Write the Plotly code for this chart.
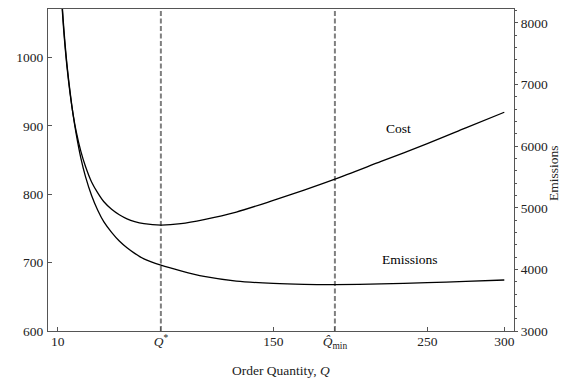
import plotly.graph_objects as go

# ---- data ----
order_qty = [12, 13, 14, 16, 18, 20, 22, 25, 28, 32, 36, 40, 45, 50, 55, 60, 66, 77,
             90, 105, 126, 150, 170, 190, 220, 250, 275, 300]
cost = [1106, 1069, 1037, 987, 948, 917, 892, 863, 841, 818, 802, 789, 778, 770,
        764, 760, 757, 755, 757, 763, 774, 791, 806, 822, 848, 874, 897, 920]
emissions = [8700, 8260, 7900, 7330, 6890, 6510, 6200, 5810, 5510, 5200, 4960, 4770,
             4600, 4460, 4350, 4260, 4170, 4068, 3975, 3885, 3810, 3772, 3757, 3753,
             3765, 3785, 3806, 3828]
q_star = 77
q_min = 190
x_tickvals = [10, q_star, 150, q_min, 250, 300]
x_ticktext = ["10", "<i>Q</i><sup>*</sup>", "150", "<i>Q̂</i><sub>min</sub>", "250", "300"]
cost_ticks = [600, 700, 800, 900, 1000]
emis_ticks = [3000, 4000, 5000, 6000, 7000, 8000]

FONT = "Liberation Serif"
FS = 13.5
AX = "#555555"

fig = go.Figure()
fig.add_trace(go.Scatter(x=order_qty, y=cost, mode="lines",
                         line=dict(color="black", width=1.3, shape="spline", smoothing=0.8),
                         showlegend=False, yaxis="y", hoverinfo="skip"))
fig.add_trace(go.Scatter(x=order_qty, y=emissions, mode="lines",
                         line=dict(color="black", width=1.3, shape="spline", smoothing=0.8),
                         showlegend=False, yaxis="y2", hoverinfo="skip"))

for q in (q_star, q_min):
    fig.add_shape(type="line", xref="x", yref="paper", x0=q, x1=q, y0=0, y1=1,
                  line=dict(color="#7f7f7f", width=2, dash="5px,2.5px"), layer="below")

fig.add_annotation(x=231, y=896, xref="x", yref="y", text="Cost", showarrow=False,
                   font=dict(family=FONT, size=FS, color="black"))
fig.add_annotation(x=239, y=704, xref="x", yref="y", text="Emissions", showarrow=False,
                   font=dict(family=FONT, size=FS, color="black"))
# axis titles
fig.add_annotation(x=0.5, y=0, xref="paper", yref="paper", yanchor="middle", yshift=-39,
                   text="Order Quantity, <i>Q</i>", showarrow=False,
                   font=dict(family=FONT, size=FS, color="#222222"))
fig.add_annotation(x=1, y=0.5, xref="paper", yref="paper", xanchor="center", xshift=39, yshift=-3,
                   text="Emissions", textangle=-90, showarrow=False,
                   font=dict(family=FONT, size=FS, color="#222222"))

fig.update_layout(
    width=561, height=378,
    margin=dict(l=48, r=47, t=9, b=47, autoexpand=False),
    paper_bgcolor="white", plot_bgcolor="white",
    font=dict(family=FONT, size=FS, color="#222222"),
    xaxis=dict(range=[3.7, 306.3], tickvals=x_tickvals, ticktext=x_ticktext,
               ticks="inside", ticklen=4, tickcolor=AX, showline=True, linecolor=AX, linewidth=1,
               mirror=True, showgrid=False, zeroline=False, automargin=False,
               ticklabelstandoff=-2),
    yaxis=dict(range=[600, 1071], tickvals=cost_ticks, ticks="inside", ticklen=4, tickcolor=AX,
               showline=True, linecolor=AX, linewidth=1, showgrid=False, zeroline=False,
               automargin=False, ticklabelstandoff=1),
    yaxis2=dict(range=[3000, 8227], tickvals=emis_ticks, overlaying="y", side="right",
                ticks="outside", ticklen=3, tickcolor=AX, showline=True, linecolor=AX, linewidth=1,
                showgrid=False, zeroline=False, automargin=False,
                minor=dict(dtick=200, ticks="outside", ticklen=2, tickcolor=AX)),
)

fig.write_html(
    "out.html",
    config={"displayModeBar": False, "staticPlot": True},
    post_script="document.body.style.margin='0';document.body.style.overflow='hidden';",
)
